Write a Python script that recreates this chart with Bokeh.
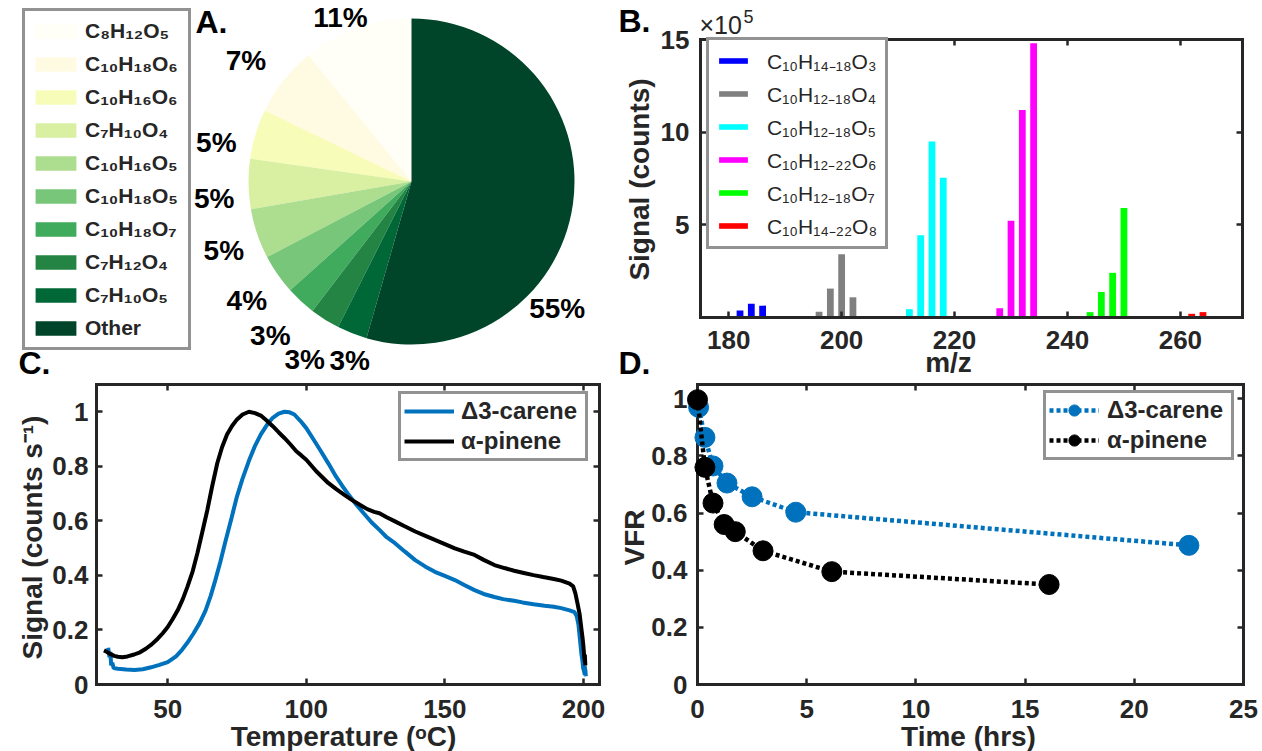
import numpy as np
from bokeh.plotting import figure
from bokeh.models import (Range1d, FixedTicker, LinearAxis, Label, Legend,
                          LegendItem, ColumnDataSource, CustomJSTickFormatter)
from bokeh.layouts import row, column
from bokeh.embed import file_html
from bokeh.resources import INLINE
from bokeh.core.properties import value

# ---------------- DATA ----------------
# Panel A: composition pie
pie_species = ["C₈H₁₂O₅", "C₁₀H₁₈O₆", "C₁₀H₁₆O₆", "C₇H₁₀O₄", "C₁₀H₁₆O₅",
               "C₁₀H₁₈O₅", "C₁₀H₁₈O₇", "C₇H₁₂O₄", "C₇H₁₀O₅", "Other"]
pie_percent = [11, 7, 5, 5, 5, 4, 3, 3, 3, 55]
pie_colors = ["#fffff7", "#fffbe3", "#f7fcb9", "#d9f0a3", "#addd8e",
              "#78c679", "#41ab5d", "#238443", "#006837", "#004529"]

# Panel B: mass spectrum (signal in units of 1e5 counts)
b_labels = ["C₁₀H₁₄₋₁₈O₃", "C₁₀H₁₂₋₁₈O₄", "C₁₀H₁₂₋₁₈O₅",
            "C₁₀H₁₂₋₂₂O₆", "C₁₀H₁₂₋₁₈O₇", "C₁₀H₁₄₋₂₂O₈"]
b_colors = ["#0000ff", "#808080", "#00ffff", "#ff00ff", "#00ff00", "#ff0000"]
mz_o3 = [182, 184, 186]
sig_o3 = [0.38, 0.74, 0.64]
mz_o4 = [196, 198, 200, 202]
sig_o4 = [0.31, 1.56, 3.41, 1.09]
mz_o5 = [212, 214, 216, 218]
sig_o5 = [0.45, 4.44, 9.49, 7.54]
mz_o6 = [228, 230, 232, 234]
sig_o6 = [0.50, 5.22, 11.2, 14.8]
mz_o7 = [244, 246, 248, 250]
sig_o7 = [0.29, 1.38, 2.41, 5.91]
mz_o8 = [262, 264, 266]
sig_o8 = [0.20, 0.29, 0.05]

# Panel C: thermograms
carene_T = [28.5, 29.0, 29.3, 29.6, 30.0, 30.5, 32, 35, 38, 41, 44, 47, 50, 53, 55, 57,
            59.3, 61.5, 63.6, 65.5, 67.1, 69, 70.7, 73, 75, 77, 79.3, 81.5, 83.6, 86,
            87.9, 90, 92.1, 94, 95.7, 98, 100, 102.5, 105, 108, 110.7, 113, 115, 118,
            120.7, 123.5, 126.4, 129, 132, 135.5, 139.3, 143, 146.4, 150, 153.6, 157,
            160.7, 164, 167.9, 171, 175, 178, 182, 186, 189.3, 192, 195, 196.8, 197.6,
            198.2, 198.6, 199.0, 199.3, 199.6, 199.9, 200.2, 200.5, 200.8, 200.4, 200.9]
carene_S = [0.135, 0.10, 0.12, 0.07, 0.08, 0.06, 0.058, 0.055, 0.053, 0.056, 0.063, 0.072,
            0.082, 0.103, 0.125, 0.152, 0.187, 0.225, 0.27, 0.325, 0.38, 0.45, 0.52, 0.61,
            0.69, 0.755, 0.82, 0.875, 0.917, 0.955, 0.978, 0.993, 1.0, 0.998, 0.99, 0.965,
            0.94, 0.90, 0.86, 0.81, 0.763, 0.728, 0.70, 0.66, 0.628, 0.595, 0.567, 0.54,
            0.518, 0.488, 0.456, 0.432, 0.413, 0.398, 0.383, 0.365, 0.346, 0.332, 0.321,
            0.313, 0.307, 0.301, 0.294, 0.289, 0.285, 0.28, 0.272, 0.265, 0.25, 0.22, 0.18,
            0.14, 0.11, 0.09, 0.06, 0.05, 0.035, 0.045, 0.07, 0.03]
pinene_T = [27.0, 28, 29, 30.7, 32, 33.6, 35.5, 37.9, 40, 42.1, 44.2, 46.4, 48.2, 50, 51.8,
            53.6, 55.4, 57.1, 59, 60.7, 62.5, 64.3, 66, 67.9, 69.6, 71.4, 73.2, 75, 77,
            79.3, 81.5, 83.6, 85.8, 87.9, 90, 92.1, 94.3, 96.4, 98.2, 100, 101.8, 103.6,
            105.8, 107.9, 110.7, 113.6, 116.4, 119.3, 122, 124.5, 126.4, 129, 132, 135.5,
            139.3, 143, 146.4, 150, 153.6, 157, 160.7, 164, 167.9, 171.5, 175, 178.5, 182,
            185.5, 189.3, 192, 195, 196.3, 197.1, 197.8, 198.6, 199.2, 199.7, 200.0, 200.3,
            200.6, 200.5, 200.7]
pinene_S = [0.125, 0.12, 0.113, 0.105, 0.102, 0.10, 0.103, 0.11, 0.118, 0.131, 0.147,
            0.168, 0.188, 0.211, 0.24, 0.272, 0.312, 0.358, 0.415, 0.481, 0.56, 0.64,
            0.725, 0.812, 0.87, 0.917, 0.948, 0.972, 0.99, 1.0, 0.995, 0.986, 0.967,
            0.947, 0.925, 0.904, 0.88, 0.855, 0.84, 0.824, 0.803, 0.782, 0.76, 0.739,
            0.717, 0.696, 0.677, 0.659, 0.643, 0.633, 0.628, 0.613, 0.598, 0.58, 0.561,
            0.545, 0.53, 0.515, 0.499, 0.487, 0.475, 0.457, 0.438, 0.427, 0.417, 0.409,
            0.401, 0.394, 0.387, 0.381, 0.37, 0.36, 0.334, 0.30, 0.26, 0.21, 0.17, 0.14,
            0.10, 0.08, 0.11, 0.07]

# Panel D: volume fraction remaining
d_carene_t = [0.05, 0.34, 0.71, 1.35, 2.5, 4.5, 22.5]
d_carene_vfr = [0.97, 0.865, 0.765, 0.705, 0.657, 0.603, 0.487]
d_pinene_t = [0.0, 0.34, 0.71, 1.22, 1.73, 3.0, 6.15, 16.1]
d_pinene_vfr = [0.997, 0.76, 0.635, 0.56, 0.535, 0.468, 0.395, 0.35]

# ---------------- STYLE / LAYOUT ----------------
FONT = "Liberation Sans"
INK = "#262626"
BLUE = "#0072bd"
SPLIT = 380  # page row split

# canvas boxes (x, y, w, h) and axes boxes (left, top, right, bottom) in page px
GEO_A = dict(box=(0, 0, 614, SPLIT), frame=(0, 0, 614, SPLIT), xr=(0, 614), yr=(0, SPLIT))
GEO_B = dict(box=(614, 0, 648, SPLIT), frame=(700, 39, 1242, 317), xr=(175, 271), yr=(0, 15))
GEO_C = dict(box=(0, SPLIT, 614, 751 - SPLIT), frame=(96, 384, 599, 684),
             xr=(24.3, 205.8), yr=(0, 1.1))
GEO_D = dict(box=(614, SPLIT, 648, 751 - SPLIT), frame=(697, 384, 1243, 684),
             xr=(0, 25), yr=(0, 1.05))


def to_data(geo, px, py):
    fl, ft, fr, fb = geo["frame"]
    x0, x1 = geo["xr"]
    y0, y1 = geo["yr"]
    return (x0 + (px - fl) / (fr - fl) * (x1 - x0),
            y1 - (py - ft) / (fb - ft) * (y1 - y0))


def add_text(p, geo, px, py, text, size, style="bold", align="center",
             baseline="middle", angle=0.0, color=INK):
    x, y = to_data(geo, px, py)
    p.add_layout(Label(x=x, y=y, text=text, text_font=FONT, text_font_size=f"{size}px",
                       text_font_style=style, text_color=color, text_align=align,
                       text_baseline=baseline, angle=angle))


def canvas_fig(geo):
    ox, oy, w, h = geo["box"]
    x_lo, y_hi = to_data(geo, ox, oy)
    x_hi, y_lo = to_data(geo, ox + w, oy + h)
    p = figure(width=w, height=h, x_range=Range1d(x_lo, x_hi), y_range=Range1d(y_lo, y_hi),
               output_backend="svg", toolbar_location=None,
               x_axis_location=None, y_axis_location=None,
               min_border=0, min_border_left=0, min_border_right=0,
               min_border_top=0, min_border_bottom=0)
    p.grid.visible = False
    p.outline_line_color = None
    return p


def add_box_axes(p, geo, xticks, yticks, yfmt=None, xstand=10, ystand=9, level="guide"):
    x0, x1 = geo["xr"]
    y0, y1 = geo["yr"]
    axes = {
        "below": LinearAxis(fixed_location=y0, bounds=(x0, x1), ticker=FixedTicker(ticks=xticks)),
        "above": LinearAxis(fixed_location=y1, bounds=(x0, x1), ticker=FixedTicker(ticks=xticks)),
        "left": LinearAxis(fixed_location=x0, bounds=(y0, y1), ticker=FixedTicker(ticks=yticks)),
        "right": LinearAxis(fixed_location=x1, bounds=(y0, y1), ticker=FixedTicker(ticks=yticks)),
    }
    for side, ax in axes.items():
        ax.level = level
        ax.axis_line_color = INK
        ax.axis_line_width = 3
        ax.axis_line_cap = "square"
        ax.major_tick_in = 6
        ax.major_tick_out = 0
        ax.minor_tick_in = 0
        ax.minor_tick_out = 0
        ax.major_tick_line_color = INK
        ax.major_tick_line_width = 2.5
        ax.major_label_text_font = FONT
        ax.major_label_text_font_size = "26px"
        ax.major_label_text_font_style = "bold"
        ax.major_label_text_color = INK
        if side in ("above", "right"):
            ax.formatter = CustomJSTickFormatter(code="return ''")
            ax.major_label_text_font_size = "1px"
        p.add_layout(ax, side)
    axes["below"].major_label_standoff = xstand
    axes["left"].major_label_standoff = ystand
    if yfmt is not None:
        axes["left"].formatter = yfmt
    return axes


def legend_style(leg, size, bold=True):
    leg.border_line_color = INK
    leg.border_line_width = 3
    leg.background_fill_color = "white"
    leg.background_fill_alpha = 1
    leg.label_text_font = FONT
    leg.label_text_font_size = f"{size}px"
    leg.label_text_font_style = "bold" if bold else "normal"
    leg.label_text_color = INK
    leg.label_text_baseline = "middle"
    leg.margin = 0


# ---------------- PANEL A ----------------
pA = canvas_fig(GEO_A)
total = float(sum(pie_percent))
cum = np.concatenate([[0.0], np.cumsum(pie_percent)]) / total
start = np.pi / 2 + 2 * np.pi * cum[:-1]
end = np.pi / 2 + 2 * np.pi * cum[1:]
cx, cy = to_data(GEO_A, 411, 181)
R = 163
srcA = ColumnDataSource(dict(start=start, end=end, color=pie_colors, name=pie_species))
wedges = pA.wedge(x=cx, y=cy, radius=R, start_angle="start", end_angle="end",
                  fill_color="color", line_color=None, source=srcA)

# label placement (layout only): angle (deg) and distance (px) from pie centre
LABEL_DEG = [113.4, 143.9, 168.7, 184.9, 200.2, 215.8, 227.5, 239.1, 250.9, -41.0]
LABEL_R = [179, 205, 199, 198, 200, 203, 209, 208, 189, 193]
lx = [cx + r * np.cos(np.radians(a)) for a, r in zip(LABEL_DEG, LABEL_R)]
ly = [cy + r * np.sin(np.radians(a)) for a, r in zip(LABEL_DEG, LABEL_R)]
pA.text(x=lx, y=ly, text=[f"{v}%" for v in pie_percent], text_font=value(FONT),
        text_font_size="28px", text_font_style="bold", text_color="#000000",
        text_align="center", text_baseline="middle")

legA = Legend(items=[LegendItem(label=s, renderers=[wedges], index=i)
                     for i, s in enumerate(pie_species)],
              location=(22, SPLIT - 350), padding=5, spacing=4, label_height=29,
              glyph_height=18, glyph_width=51, label_standoff=4, label_width=98)
legend_style(legA, 21)
pA.add_layout(legA)
add_text(pA, GEO_A, 211, 21, "A.", 32, color="#000000")
add_text(pA, GEO_A, 34, 362, "C.", 32, color="#000000")

# ---------------- PANEL B ----------------
pB = canvas_fig(GEO_B)
b_sets = [(mz_o3, sig_o3), (mz_o4, sig_o4), (mz_o5, sig_o5),
          (mz_o6, sig_o6), (mz_o7, sig_o7), (mz_o8, sig_o8)]
b_items = []
for (mz, sig), col, lab in zip(b_sets, b_colors, b_labels):
    r = pB.vbar(x=mz, top=sig, bottom=0, width=1.2, fill_color=col, line_color=None)
    b_items.append(LegendItem(label=lab, renderers=[r]))
add_box_axes(pB, GEO_B, [180, 200, 220, 240, 260], [5, 10, 15], xstand=13, ystand=11)
legB = Legend(items=b_items, location=(706 - 614, SPLIT - 249), padding=6, spacing=4,
              label_height=29, glyph_height=7, glyph_width=36, label_standoff=16,
              label_width=112)
legend_style(legB, 21, bold=False)
pB.add_layout(legB)
add_text(pB, GEO_B, 639, 179, "Signal (counts)", 28, angle=np.pi / 2)
add_text(pB, GEO_B, 948, 362, "m/z", 28)
add_text(pB, GEO_B, 699, 24, "×10", 25, style="normal", align="left")
add_text(pB, GEO_B, 743, 16, "5", 18, style="normal", align="left")
add_text(pB, GEO_B, 634, 20, "B.", 32, color="#000000")
add_text(pB, GEO_B, 634, 362, "D.", 32, color="#000000")

# ---------------- PANEL C ----------------
pC = canvas_fig(GEO_C)
rc1 = pC.line(carene_T, carene_S, line_color=BLUE, line_width=4)
rc2 = pC.line(pinene_T, pinene_S, line_color="#000000", line_width=4)
fmtC = CustomJSTickFormatter(code="return Number(tick.toFixed(2)).toString()")
add_box_axes(pC, GEO_C, [50, 100, 150, 200], [0, 0.2, 0.4, 0.6, 0.8, 1.0], yfmt=fmtC,
             xstand=15, ystand=8)
legC = Legend(items=[LegendItem(label="Δ3-carene", renderers=[rc1]),
                     LegendItem(label="α-pinene", renderers=[rc2])],
              location=(398, 751 - 461), padding=3, spacing=2, label_height=28,
              glyph_height=28, glyph_width=50, label_standoff=7, label_width=121)
legend_style(legC, 24)
pC.add_layout(legC)
add_text(pC, GEO_C, 32, 537, "Signal (counts s⁻¹)", 28, angle=np.pi / 2)
add_text(pC, GEO_C, 343, 736, "Temperature (ᵒC)", 28)

# ---------------- PANEL D ----------------
pD = canvas_fig(GEO_D)
fmtD = CustomJSTickFormatter(code="return Number(tick.toFixed(2)).toString()")
add_box_axes(pD, GEO_D, [0, 5, 10, 15, 20, 25], [0, 0.2, 0.4, 0.6, 0.8, 1.0], yfmt=fmtD,
             xstand=15, ystand=10, level="underlay")
ld1 = pD.line(d_carene_t, d_carene_vfr, line_color=BLUE, line_width=4.5, line_dash="4 3")
md1 = pD.scatter(d_carene_t, d_carene_vfr, size=20, fill_color=BLUE, line_color=BLUE)
ld2 = pD.line(d_pinene_t, d_pinene_vfr, line_color="#000000", line_width=4.5, line_dash="4 3")
md2 = pD.scatter(d_pinene_t, d_pinene_vfr, size=20, fill_color="#000000", line_color="#000000")
legD = Legend(items=[LegendItem(label="Δ3-carene", renderers=[ld1, md1]),
                     LegendItem(label="α-pinene", renderers=[ld2, md2])],
              location=(1043 - 614, 751 - 460), padding=3, spacing=2, label_height=28,
              glyph_height=28, glyph_width=50, label_standoff=8, label_width=121)
legend_style(legD, 24)
pD.add_layout(legD)
add_text(pD, GEO_D, 634, 537, "VFR", 28, angle=np.pi / 2)
add_text(pD, GEO_D, 968, 736, "Time (hrs)", 28)

layout = column(row(pA, pB, spacing=0), row(pC, pD, spacing=0), spacing=0)
open("out.html", "w").write(file_html(layout, INLINE))
